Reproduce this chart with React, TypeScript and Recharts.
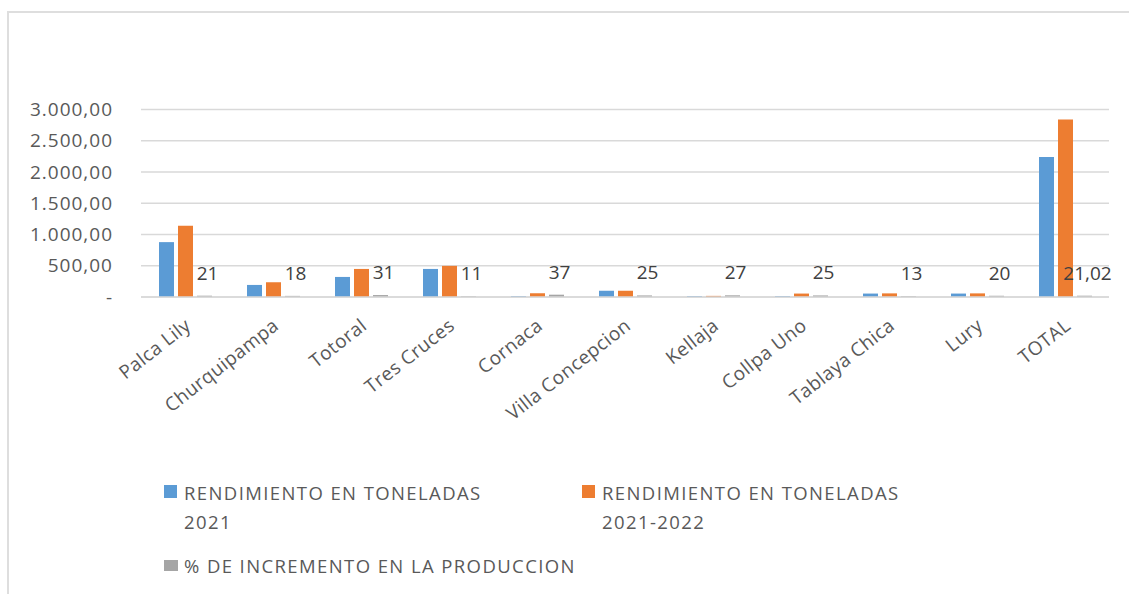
import { BarChart, Bar, XAxis, YAxis, CartesianGrid, Legend, LabelList } from "recharts";

const categories = [
  "Palca Lily",
  "Churquipampa",
  "Totoral",
  "Tres Cruces",
  "Cornaca",
  "Villa Concepcion",
  "Kellaja",
  "Collpa Uno",
  "Tablaya Chica",
  "Lury",
  "TOTAL",
];
const rend2021 = [878, 193, 321, 449, 15, 100, 15, 15, 55, 55, 2239];
const rend20212022 = [1140, 236, 449, 498, 60, 100, 18, 55, 58, 58, 2839];
const incremento = [21, 18, 31, 11, 37, 25, 27, 25, 13, 20, 21.02];
const yTicks = [0, 500, 1000, 1500, 2000, 2500, 3000];

const data = categories.map((name, i) => ({
  name,
  a: rend2021[i],
  b: rend20212022[i],
  c: incremento[i],
}));

const FONT = "'Open Sans', sans-serif";

const fmtY = (v: number) =>
  v === 0 ? "-" : Math.round(v).toString().replace(/\B(?=(\d{3})+(?!\d))/g, ".") + ",00";

const fmtLabel = (v: number) => (Number.isInteger(v) ? String(v) : v.toFixed(2).replace(".", ","));

const XTick = (props: any) => {
  const { x, y, payload } = props;
  const tx = x + 7;
  const ty = y + 31;
  return (
    <text
      x={tx}
      y={ty}
      textAnchor="end"
      transform={`rotate(-38, ${tx}, ${ty})`}
      fill="#595959"
      fontSize={19}
      letterSpacing={0.4}
      fontFamily={FONT}
    >
      {payload.value}
    </text>
  );
};

const GrayLabel = (props: any) => {
  const { x, y, width, value } = props;
  return (
    <text
      x={x + width / 2 + 3}
      y={y - 16}
      textAnchor="middle"
      fill="#404040"
      fontSize={19}
      fontFamily={FONT}
    >
      {fmtLabel(value)}
    </text>
  );
};

const legendText = {
  position: "absolute" as const,
  fontFamily: FONT,
  fontSize: 18.5,
  lineHeight: "29px",
  letterSpacing: 1.4,
  color: "#595959",
  whiteSpace: "nowrap" as const,
};

const LegendBox = () => (
  <div style={{ position: "relative", width: 1120, height: 120 }}>
    <div style={{ position: "absolute", left: 155, top: 11, width: 13, height: 13, background: "#5b9bd5" }} />
    <div style={{ ...legendText, left: 175, top: 3.5 }}>
      RENDIMIENTO EN TONELADAS
      <br />
      2021
    </div>
    <div style={{ position: "absolute", left: 573, top: 11, width: 13, height: 13, background: "#ed7d31" }} />
    <div style={{ ...legendText, left: 593, top: 3.5 }}>
      RENDIMIENTO EN TONELADAS
      <br />
      2021-2022
    </div>
    <div style={{ position: "absolute", left: 155, top: 86, width: 14, height: 11, background: "#a5a5a5" }} />
    <div style={{ ...legendText, left: 175, top: 76.5 }}>% DE INCREMENTO EN LA PRODUCCION</div>
  </div>
);

export default function App() {
  return (
    <div
      style={{
        position: "fixed",
        left: 7,
        top: 11,
        width: 1125,
        height: 590,
        borderTop: "2px solid #dedede",
        borderLeft: "2px solid #dedede",
        background: "#fff",
      }}
    >
      <BarChart
        width={1120}
        height={581}
        data={data}
        margin={{ top: 96.5, right: 20, left: 0, bottom: 0 }}
        barSize={15}
        barGap={4}
      >
        <CartesianGrid vertical={false} stroke="#d9d9d9" strokeWidth={1.5} />
        <XAxis
          dataKey="name"
          interval={0}
          height={177}
          tickLine={false}
          tickSize={0}
          tickMargin={0}
          axisLine={{ stroke: "#d9d9d9", strokeWidth: 1.5 }}
          tick={<XTick />}
        />
        <YAxis
          width={132}
          domain={[0, 3000]}
          ticks={yTicks}
          tickFormatter={fmtY}
          axisLine={false}
          tickLine={false}
          tickSize={0}
          tickMargin={28}
          tick={{ fill: "#595959", fontSize: 19, fontFamily: FONT, letterSpacing: 1 }}
        />
        <Legend verticalAlign="bottom" content={<LegendBox />} wrapperStyle={{ left: 0, width: 1120 }} />
        <Bar dataKey="a" name="RENDIMIENTO EN TONELADAS 2021" fill="#5b9bd5" isAnimationActive={false} />
        <Bar dataKey="b" name="RENDIMIENTO EN TONELADAS 2021-2022" fill="#ed7d31" isAnimationActive={false} />
        <Bar dataKey="c" name="% DE INCREMENTO EN LA PRODUCCION" fill="#a5a5a5" isAnimationActive={false}>
          <LabelList dataKey="c" content={<GrayLabel />} />
        </Bar>
      </BarChart>
    </div>
  );
}
